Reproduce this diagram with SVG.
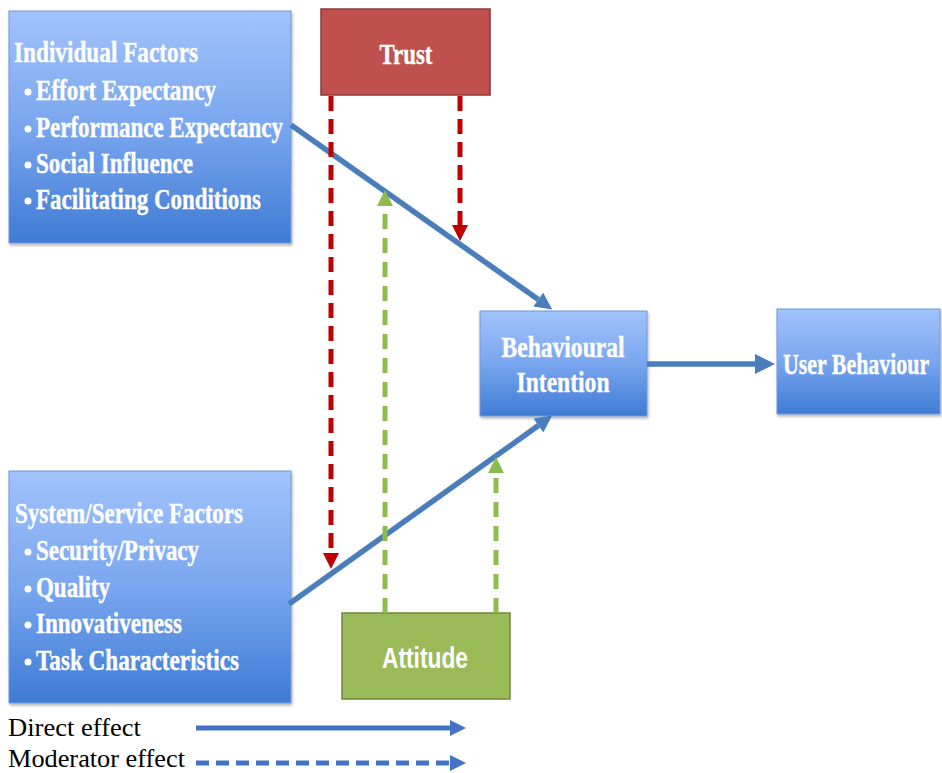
<svg xmlns="http://www.w3.org/2000/svg" width="942" height="773" viewBox="0 0 942 773">
<style>
.bt{font-family:"Liberation Serif","Times New Roman",serif;font-weight:bold;fill:#fff;font-size:30px;stroke:#fff;stroke-width:0.4}
.st{font-family:"Liberation Sans",Arial,sans-serif;font-weight:bold;fill:#fff;font-size:29px}
.lg{font-family:"Liberation Serif","Times New Roman",serif;fill:#000;font-size:26px}
.blue{fill:url(#gb);stroke:#6f98d8;stroke-width:1;filter:url(#sh)}
.dir{stroke:#4a7ebb;stroke-width:5.5;fill:none}
.red{stroke:#c00000;stroke-width:5;fill:none;stroke-dasharray:15 8}
.grn{stroke:#8dbb4d;stroke-width:5;fill:none;stroke-dasharray:15 9}
</style>
<defs>
<linearGradient id="gb" x1="0" y1="0" x2="0" y2="1">
<stop offset="0" stop-color="#a2c3fb"/>
<stop offset="0.5" stop-color="#79a6ef"/>
<stop offset="1" stop-color="#3f7bd4"/>
</linearGradient>
<filter id="sh" x="-5%" y="-5%" width="112%" height="115%">
<feDropShadow dx="1" dy="2" stdDeviation="1.5" flood-color="#000" flood-opacity="0.3"/>
</filter>
<marker id="ab" viewBox="0 0 10 10" refX="0" refY="5" markerWidth="18" markerHeight="17" markerUnits="userSpaceOnUse" orient="auto"><path d="M0,0L10,5L0,10z" fill="#4a7ebb"/></marker>
<marker id="abig" viewBox="0 0 10 10" refX="0" refY="5" markerWidth="22" markerHeight="20" markerUnits="userSpaceOnUse" orient="auto"><path d="M0,0L10,5L0,10z" fill="#4a7ebb"/></marker>
<marker id="ar" viewBox="0 0 10 10" refX="0" refY="5" markerWidth="18" markerHeight="16" markerUnits="userSpaceOnUse" orient="auto"><path d="M0,0L10,5L0,10z" fill="#c00000"/></marker>
<marker id="ag" viewBox="0 0 10 10" refX="0" refY="5" markerWidth="18" markerHeight="16" markerUnits="userSpaceOnUse" orient="auto"><path d="M0,0L10,5L0,10z" fill="#8dbb4d"/></marker>
<marker id="al" viewBox="0 0 10 10" refX="0" refY="5" markerWidth="18" markerHeight="16" markerUnits="userSpaceOnUse" orient="auto"><path d="M0,0L10,5L0,10z" fill="#4472c4"/></marker>
</defs>
<rect width="942" height="773" fill="#fff"/>

<g id="individual">
<rect class="blue" x="9" y="11" width="282" height="232"/>
<text class="bt" x="14" y="62" textLength="184" lengthAdjust="spacingAndGlyphs">Individual Factors</text>
<circle cx="28" cy="92" r="3.5" fill="#fff"/>
<text class="bt" x="36" y="100" textLength="180" lengthAdjust="spacingAndGlyphs">Effort Expectancy</text>
<circle cx="28" cy="129" r="3.5" fill="#fff"/>
<text class="bt" x="36" y="137" textLength="247" lengthAdjust="spacingAndGlyphs">Performance Expectancy</text>
<circle cx="28" cy="165" r="3.5" fill="#fff"/>
<text class="bt" x="36" y="173" textLength="157" lengthAdjust="spacingAndGlyphs">Social Influence</text>
<circle cx="28" cy="201" r="3.5" fill="#fff"/>
<text class="bt" x="36" y="209" textLength="225" lengthAdjust="spacingAndGlyphs">Facilitating Conditions</text>
</g>

<g id="trust">
<rect x="321" y="9" width="169" height="86" fill="#c0504d" stroke="#8c3836" stroke-width="1.5"/>
<text class="bt" x="406" y="64" text-anchor="middle" textLength="53" lengthAdjust="spacingAndGlyphs">Trust</text>
</g>

<g id="system">
<rect class="blue" x="9" y="471" width="282" height="232"/>
<text class="bt" x="15" y="523" textLength="228" lengthAdjust="spacingAndGlyphs">System/Service Factors</text>
<circle cx="28" cy="552" r="3.5" fill="#fff"/>
<text class="bt" x="36" y="560" textLength="163" lengthAdjust="spacingAndGlyphs">Security/Privacy</text>
<circle cx="28" cy="589" r="3.5" fill="#fff"/>
<text class="bt" x="36" y="597" textLength="74" lengthAdjust="spacingAndGlyphs">Quality</text>
<circle cx="28" cy="625" r="3.5" fill="#fff"/>
<text class="bt" x="36" y="633" textLength="146" lengthAdjust="spacingAndGlyphs">Innovativeness</text>
<circle cx="28" cy="662" r="3.5" fill="#fff"/>
<text class="bt" x="36" y="670" textLength="203" lengthAdjust="spacingAndGlyphs">Task Characteristics</text>
</g>

<g id="attitude">
<rect x="342" y="613" width="168" height="86" fill="#9bbb59" stroke="#71893f" stroke-width="1.5"/>
<text class="st" x="425" y="668" text-anchor="middle" textLength="86" lengthAdjust="spacingAndGlyphs">Attitude</text>
</g>

<g id="intention">
<rect class="blue" x="480" y="311" width="167" height="105"/>
<text class="bt" x="563" y="357" text-anchor="middle" textLength="123" lengthAdjust="spacingAndGlyphs">Behavioural</text>
<text class="bt" x="563" y="392" text-anchor="middle" textLength="93" lengthAdjust="spacingAndGlyphs">Intention</text>
</g>

<g id="behaviour">
<rect class="blue" x="777" y="309" width="163" height="105"/>
<text class="bt" transform="translate(783,374) scale(0.73,1)">User Behaviour</text>
</g>

<g id="connectors">
<line class="dir" x1="291" y1="125" x2="538.3" y2="299.6" marker-end="url(#ab)"/>
<line class="dir" x1="289" y1="604" x2="538.4" y2="425.5" marker-end="url(#ab)"/>
<line class="dir" x1="647" y1="364" x2="755" y2="364" marker-end="url(#abig)"/>
<line class="red" x1="331" y1="96" x2="331" y2="553" marker-end="url(#ar)"/>
<line class="red" x1="460" y1="96" x2="460" y2="225" marker-end="url(#ar)"/>
<line class="grn" x1="385" y1="613" x2="385" y2="206" marker-end="url(#ag)"/>
<line class="grn" x1="496" y1="613" x2="496" y2="473" marker-end="url(#ag)"/>
</g>

<g id="legend">
<text class="lg" x="8" y="736" textLength="133" lengthAdjust="spacingAndGlyphs">Direct effect</text>
<text class="lg" x="8" y="767" textLength="177" lengthAdjust="spacingAndGlyphs">Moderator effect</text>
<line x1="196" y1="728" x2="450" y2="728" stroke="#4472c4" stroke-width="5" marker-end="url(#al)"/>
<line x1="196" y1="763" x2="450" y2="763" stroke="#4472c4" stroke-width="5" stroke-dasharray="13 7" marker-end="url(#al)"/>
</g>
</svg>
